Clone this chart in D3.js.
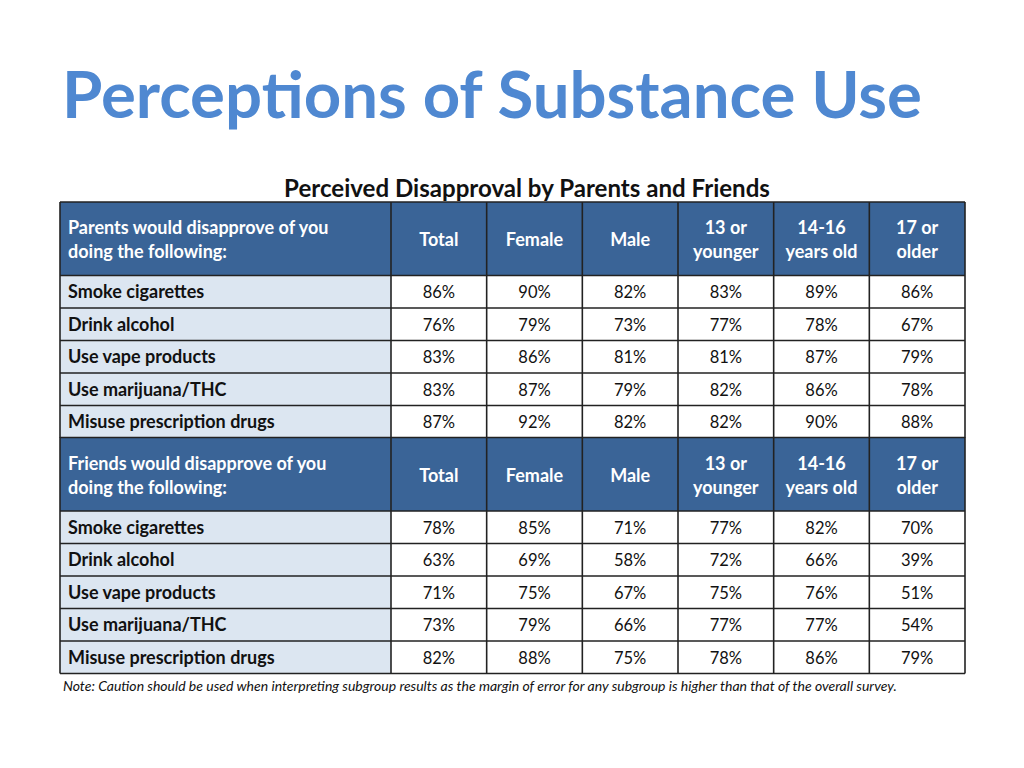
<!DOCTYPE html>
<html><head><meta charset="utf-8">
<script src="https://cdn.jsdelivr.net/npm/d3@7"></script>
<style>body{margin:0;background:#fff}svg{display:block}</style>
</head><body>
<script>
const title = "Perceptions of Substance Use";
const subtitle = "Perceived Disapproval by Parents and Friends";
const note = "Note: Caution should be used when interpreting subgroup results as the margin of error for any subgroup is higher than that of the overall survey.";
const columns = [["Total"],["Female"],["Male"],["13 or","younger"],["14-16","years old"],["17 or","older"]];
const behaviors = ["Smoke cigarettes","Drink alcohol","Use vape products","Use marijuana/THC","Misuse prescription drugs"];
const parentsHeader = ["Parents would disapprove of you","doing the following:"];
const friendsHeader = ["Friends would disapprove of you","doing the following:"];
const parentsValues = [
  [86,90,82,83,89,86],
  [76,79,73,77,78,67],
  [83,86,81,81,87,79],
  [83,87,79,82,86,78],
  [87,92,82,82,90,88]];
const friendsValues = [
  [78,85,71,77,82,70],
  [63,69,58,72,66,39],
  [71,75,67,75,76,51],
  [73,79,66,77,77,54],
  [82,88,75,78,86,79]];

const W=1024,H=768;
const font="Lato, 'Open Sans', sans-serif";
const svg=d3.select("body").append("svg").attr("width",W).attr("height",H).style("font-family",font);

const left=60,labelRight=391,right=965;
const x=d3.scaleBand().domain(d3.range(columns.length)).range([labelRight,right]).padding(0);
const headH=73.5, rowH=32.5;
const sections=[{head:parentsHeader,vals:parentsValues,top:202},{head:friendsHeader,vals:friendsValues,top:437.5}];

const headBg="#3a6497", labelBg="#dce6f1", border="#222";
const bfs=18, vfs=16.5;

const t=svg.append("text").attr("x",62).attr("y",118).attr("fill","#4f88d1")
  .attr("font-weight",700).attr("font-size",60).text(title);
const tw=t.node().getComputedTextLength(); t.attr("font-size",60*860/tw);
const s=svg.append("text").attr("x",527).attr("y",197).attr("text-anchor","middle")
  .attr("font-weight",700).attr("font-size",21).attr("fill","#111").text(subtitle);
const sw=s.node().getComputedTextLength(); s.attr("font-size",21*486/sw);

sections.forEach(sec=>{
  const g=svg.append("g");
  const y0=sec.top;
  g.append("rect").attr("x",left).attr("y",y0).attr("width",right-left).attr("height",headH).attr("fill",headBg);
  const hl=g.append("text").attr("fill","#fff").attr("font-weight",700).attr("font-size",bfs);
  sec.head.forEach((l,i)=>hl.append("tspan").attr("x",68).attr("y",y0+32+i*24).text(l));
  columns.forEach((c,j)=>{
    const tx=g.append("text").attr("fill","#fff").attr("font-weight",700).attr("font-size",bfs).attr("text-anchor","middle");
    const cx=x(j)+x.bandwidth()/2;
    if(c.length===1) tx.append("tspan").attr("x",cx).attr("y",y0+44).text(c[0]);
    else c.forEach((l,i)=>tx.append("tspan").attr("x",cx).attr("y",y0+32+i*24).text(l));
  });
  const rows=g.selectAll("g.row").data(sec.vals).join("g")
    .attr("transform",(d,i)=>`translate(0,${y0+headH+i*rowH})`);
  rows.append("rect").attr("x",left).attr("y",0).attr("width",labelRight-left).attr("height",rowH).attr("fill",labelBg);
  rows.append("text").attr("x",68).attr("y",rowH/2+6.5).attr("font-weight",700).attr("font-size",bfs).attr("fill","#111")
    .text((d,i)=>behaviors[i]);
  rows.selectAll("text.v").data(d=>d).join("text").attr("class","v")
    .attr("x",(d,j)=>x(j)+x.bandwidth()/2).attr("y",rowH/2+6.5).attr("text-anchor","middle")
    .attr("font-size",vfs).attr("fill","#111").text(d=>d+"%");
  const bottom=y0+headH+sec.vals.length*rowH;
  const lines=g.append("g").attr("stroke",border).attr("stroke-width",1.6);
  [left,labelRight,...d3.range(1,columns.length).map(j=>x(j)),right].forEach(xx=>
    lines.append("line").attr("x1",xx).attr("x2",xx).attr("y1",y0).attr("y2",bottom));
  [y0,...d3.range(sec.vals.length+1).map(i=>y0+headH+i*rowH)].forEach(yy=>
    lines.append("line").attr("x1",left).attr("x2",right).attr("y1",yy).attr("y2",yy));
});

const n=svg.append("text").attr("x",63).attr("y",691).attr("font-style","italic").attr("font-size",12).attr("fill","#111").text(note);
const nw=n.node().getComputedTextLength(); n.attr("font-size",12*834/nw);
</script>
</body></html>
